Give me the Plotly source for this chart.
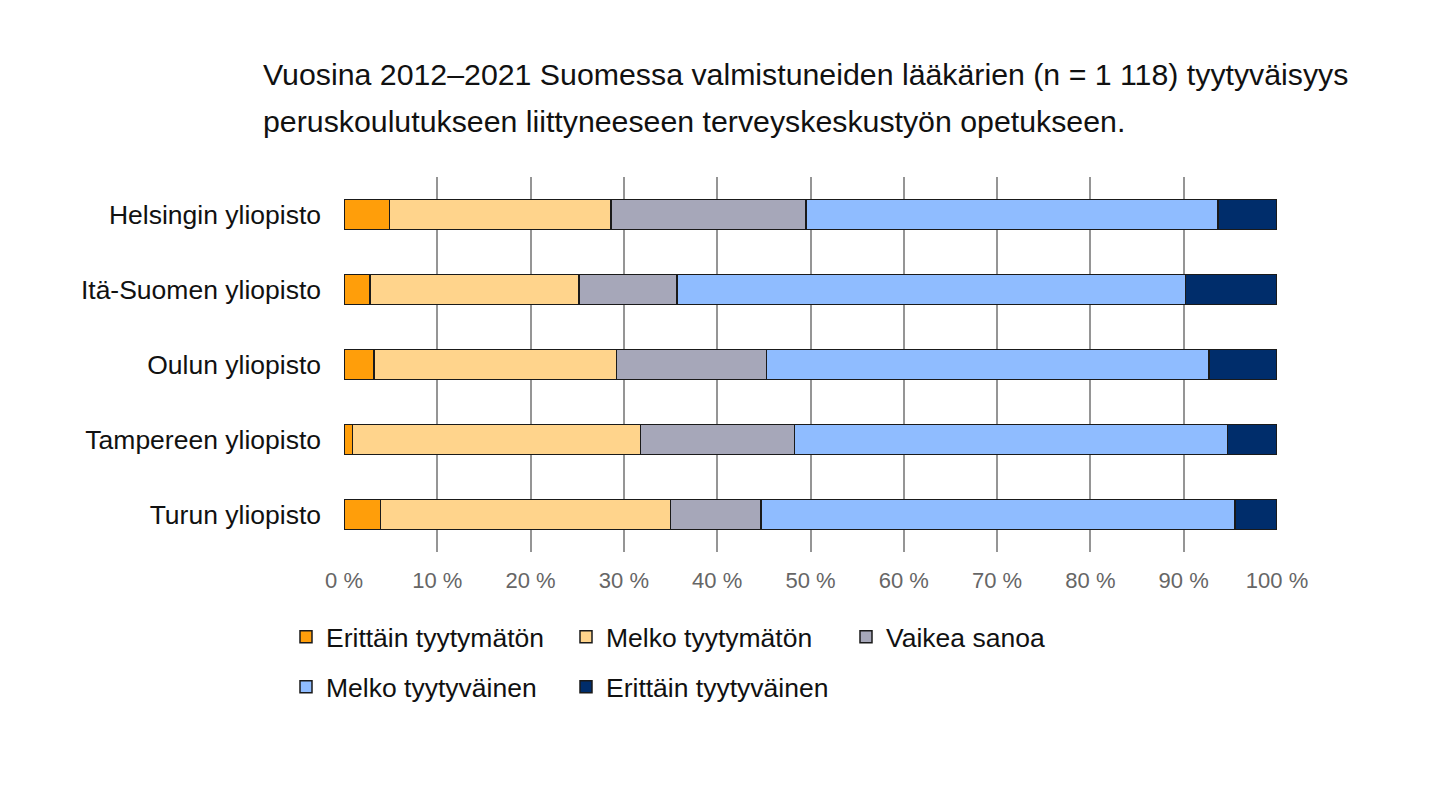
import plotly.graph_objects as go

universities = [
    "Helsingin yliopisto",
    "Itä-Suomen yliopisto",
    "Oulun yliopisto",
    "Tampereen yliopisto",
    "Turun yliopisto",
]

categories = [
    "Erittäin tyytymätön",
    "Melko tyytymätön",
    "Vaikea sanoa",
    "Melko tyytyväinen",
    "Erittäin tyytyväinen",
]

# osuudet (%) per yliopisto, samassa järjestyksessä kuin universities
erittain_tyytymaton = [4.9, 2.8, 3.2, 0.9, 3.9]
melko_tyytymaton = [23.7, 22.4, 26.0, 30.9, 31.1]
vaikea_sanoa = [20.9, 10.5, 16.1, 16.5, 9.7]
melko_tyytyvainen = [44.2, 54.5, 47.4, 46.4, 50.8]
erittain_tyytyvainen = [6.3, 9.8, 7.3, 5.3, 4.5]

series = [
    erittain_tyytymaton,
    melko_tyytymaton,
    vaikea_sanoa,
    melko_tyytyvainen,
    erittain_tyytyvainen,
]
colors = ["#ff9e0a", "#ffd48c", "#a6a7b9", "#8fbcff", "#002d6b"]
legends = ["legend", "legend", "legend", "legend2", "legend2"]

tick_values = [0, 10, 20, 30, 40, 50, 60, 70, 80, 90, 100]
tick_labels = [f"{v} %" for v in tick_values]

title_lines = [
    "Vuosina 2012–2021 Suomessa valmistuneiden lääkärien (n = 1 118) tyytyväisyys",
    "peruskoulutukseen liittyneeseen terveyskeskustyön opetukseen.",
]

FONT = "Liberation Sans, Arial, sans-serif"

fig = go.Figure()

for name, values, color, legend in zip(categories, series, colors, legends):
    fig.add_trace(
        go.Bar(
            y=universities,
            x=values,
            name=name,
            orientation="h",
            width=0.4,
            marker=dict(color=color, line=dict(color="#1a1a1a", width=1.5)),
            legend=legend,
        )
    )

# otsikko kahtena rivinä, jotta riviväli vastaa alkuperäistä
for text, y in zip(title_lines, [1.272, 1.147]):
    fig.add_annotation(
        text=text,
        xref="paper",
        yref="paper",
        x=-0.089,
        y=y,
        xanchor="left",
        yanchor="middle",
        showarrow=False,
        font=dict(family=FONT, size=30.3, color="#111111"),
    )

legend_common = dict(
    orientation="h",
    xref="container",
    yref="container",
    xanchor="left",
    yanchor="middle",
    entrywidth=235,
    entrywidthmode="pixels",
    font=dict(family=FONT, size=26.5, color="#111111"),
    bgcolor="rgba(0,0,0,0)",
    traceorder="normal",
)

fig.update_layout(
    width=1440,
    height=788,
    paper_bgcolor="white",
    plot_bgcolor="white",
    barmode="stack",
    margin=dict(l=336, r=171, t=169, b=244, autoexpand=False),
    xaxis=dict(
        range=[0, 100],
        tickvals=tick_values,
        ticktext=tick_labels,
        showgrid=True,
        gridcolor="#959595",
        gridwidth=1.5,
        zeroline=False,
        showline=False,
        ticks="",
        ticklabelstandoff=13,
        automargin=False,
        tickfont=dict(family=FONT, size=22, color="#666666"),
        fixedrange=True,
    ),
    yaxis=dict(
        categoryorder="array",
        categoryarray=universities,
        range=[4.5, -0.5],
        showgrid=False,
        showline=False,
        ticks="",
        ticklabelstandoff=22,
        automargin=False,
        tickfont=dict(family=FONT, size=26.5, color="#111111"),
        fixedrange=True,
    ),
    legend=dict(legend_common, x=278 / 1440, y=1 - 629 / 788),
    legend2=dict(legend_common, x=278 / 1440, y=1 - 679 / 788),
)

fig.write_html("out.html")
